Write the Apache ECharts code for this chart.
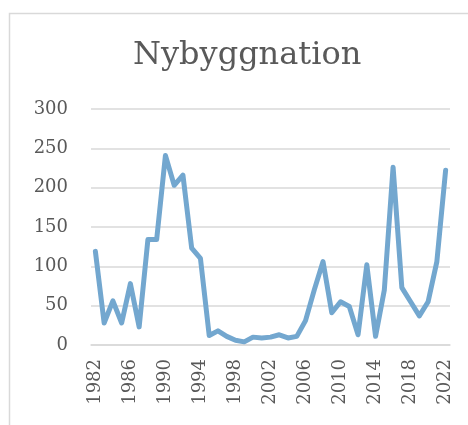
<!DOCTYPE html>
<html>
<head>
<meta charset="utf-8">
<script src="https://cdn.jsdelivr.net/npm/echarts@6/dist/echarts.min.js"></script>
<style>
  html, body { margin: 0; padding: 0; background: #fff; }
  #main { width: 468px; height: 425px; }
</style>
</head>
<body>
<div id="main"></div>
<script>
// years 1982..2022
var years = [];
for (var y = 1982; y <= 2022; y++) years.push(String(y));

// nybyggnation per year
var values = [
  119, 28, 56, 28, 78, 23, 134, 134, 241, 203,
  216, 123, 110, 12, 18, 11, 6, 4, 10, 9,
  10, 13, 9, 11, 31, 70, 106, 41, 55, 49,
  13, 102, 11, 70, 226, 73, 55, 37, 55, 106,
  222
];

var titleText = 'Nybyggnation';
var textColor = '#595959';
var serif = '"DejaVu Serif", "Liberation Serif", serif';

var chart = echarts.init(document.getElementById('main'));
chart.setOption({
  backgroundColor: '#fff',
  animation: false,
  graphic: [{
    type: 'rect',
    shape: { x: 9.5, y: 13.5, width: 600, height: 600 },
    style: { fill: 'none', stroke: '#d9d9d9', lineWidth: 1.5 }
  }],
  title: {
    text: titleText,
    left: 128,
    top: 35,
    textStyle: { fontFamily: serif, fontWeight: 'normal', fontSize: 32, color: textColor }
  },
  grid: { left: 91, right: 18, top: 109, bottom: 80 },
  xAxis: {
    type: 'category',
    data: years,
    boundaryGap: true,
    axisLine: { lineStyle: { color: '#d9d9d9', width: 1.5 } },
    axisTick: { show: false },
    axisLabel: {
      interval: 3,
      rotate: 90,
      margin: 14,
      fontFamily: serif,
      fontSize: 18,
      color: textColor
    }
  },
  yAxis: {
    type: 'value',
    min: 0,
    max: 300,
    interval: 50,
    axisLine: { show: false },
    axisTick: { show: false },
    splitLine: { lineStyle: { color: '#d9d9d9', width: 1.5 } },
    axisLabel: { margin: 23, fontFamily: serif, fontSize: 18, color: textColor }
  },
  series: [{
    type: 'line',
    data: values,
    symbol: 'none',
    lineStyle: { color: '#73a7cf', width: 5, join: 'round', cap: 'round' }
  }]
});
</script>
</body>
</html>
